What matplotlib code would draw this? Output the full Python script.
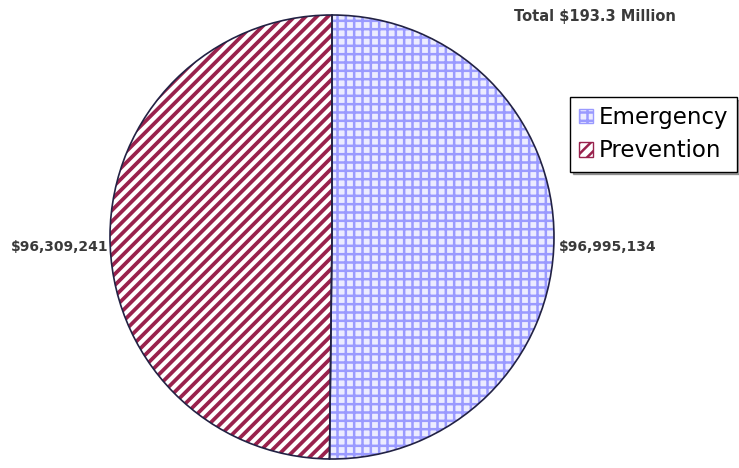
import matplotlib.pyplot as plt
import matplotlib.patches as mpatches

labels = ['Emergency', 'Prevention']
values = [96995134, 96309241]
value_text = ['$96,995,134', '$96,309,241']
title_text = 'Total $193.3 Million'

fills = ['#ececff', 'white']
hatch_colors = ['#9a9aff', '#99224d']
hatches = ['++', '///']
hatch_widths = [1.8, 2.7]

plt.rcParams['hatch.linewidth'] = 1.8

W, H = 739, 468
cx, cy, R = 332, 237, 222
fig = plt.figure(figsize=(W / 100, H / 100), dpi=100)
ax = fig.add_axes([0, 0, 1, 1])
ax.set_aspect('equal')
ax.axis('off')

# hatched fill
wedges, _ = ax.pie(values, startangle=90, counterclock=False, radius=1,
                   colors=fills, wedgeprops=dict(linewidth=0))
for w, hc, h, hw in zip(wedges, hatch_colors, hatches, hatch_widths):
    w.set_edgecolor(hc)
    w.set_hatch(h)
    if hasattr(w, 'set_hatch_linewidth'):
        w.set_hatch_linewidth(hw)

# outline
ax.pie(values, startangle=90, counterclock=False, radius=1,
       wedgeprops=dict(fill=False, edgecolor='#222244', linewidth=1.2))

ax.set_xlim(-cx / R, (W - cx) / R)
ax.set_ylim(-(H - cy) / R, cy / R)

ax.text(1.02, -0.045, value_text[0], ha='left', va='center', fontsize=10,
        fontweight='bold', color='#3a3a3a')
ax.text(-1.005, -0.045, value_text[1], ha='right', va='center', fontsize=10,
        fontweight='bold', color='#3a3a3a')
fig.text(595 / W, 1 - 17 / H, title_text, ha='center', va='center',
         fontsize=10.5, fontweight='bold', color='#3a3a3a')

handles = [mpatches.Patch(facecolor=f, edgecolor=hc, hatch=h)
           for f, hc, h in zip(fills, hatch_colors, hatches)]
leg = fig.legend(handles, labels, loc='upper left',
                 bbox_to_anchor=(570 / W, 1 - 97 / H), fontsize=16.5,
                 frameon=True, fancybox=False, shadow=True,
                 handlelength=0.6, handleheight=0.6, handletextpad=0.25,
                 borderpad=0.4, labelspacing=0.45, borderaxespad=0)
leg.get_frame().set_edgecolor('black')
leg.get_frame().set_linewidth(1.0)

fig.savefig('out.png', dpi=100)
